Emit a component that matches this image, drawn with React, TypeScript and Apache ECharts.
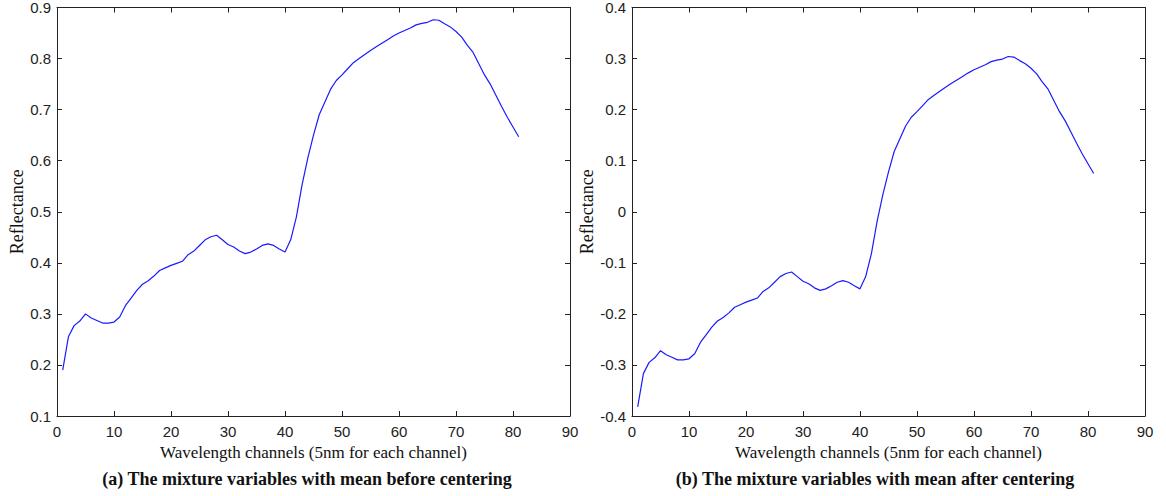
import React, { useEffect, useRef } from "react";
import * as echarts from "echarts";

const channels = [
  1, 2, 3, 4, 5, 6, 7, 8, 9, 10, 11, 12, 13, 14, 15, 16, 17, 18, 19, 20,
  21, 22, 23, 24, 25, 26, 27, 28, 29, 30, 31, 32, 33, 34, 35, 36, 37, 38, 39, 40,
  41, 42, 43, 44, 45, 46, 47, 48, 49, 50, 51, 52, 53, 54, 55, 56, 57, 58, 59, 60,
  61, 62, 63, 64, 65, 66, 67, 68, 69, 70, 71, 72, 73, 74, 75, 76, 77, 78, 79, 80, 81,
];

const beforeCentering = [
  0.19, 0.255, 0.277, 0.286, 0.3, 0.292, 0.287, 0.282, 0.282, 0.284,
  0.294, 0.316, 0.331, 0.346, 0.358, 0.365, 0.374, 0.385, 0.39, 0.395,
  0.399, 0.403, 0.416, 0.423, 0.434, 0.445, 0.451, 0.454, 0.445, 0.436,
  0.431, 0.423, 0.418, 0.421, 0.427, 0.434, 0.437, 0.434, 0.427, 0.421,
  0.445, 0.49, 0.553, 0.605, 0.65, 0.69, 0.715, 0.74, 0.757, 0.768,
  0.78, 0.792, 0.8, 0.808, 0.816, 0.823, 0.83, 0.837, 0.844, 0.85,
  0.855, 0.86, 0.866, 0.869, 0.871, 0.876, 0.875, 0.868, 0.862, 0.853,
  0.842, 0.826, 0.812, 0.79, 0.768, 0.75, 0.728, 0.706, 0.685, 0.666, 0.647,
];

const afterCentering = [
  -0.382, -0.317, -0.295, -0.286, -0.272, -0.28, -0.285, -0.29, -0.29, -0.288,
  -0.278, -0.256, -0.241, -0.226, -0.214, -0.207, -0.198, -0.187, -0.182, -0.177,
  -0.173, -0.169, -0.156, -0.149, -0.138, -0.127, -0.121, -0.118, -0.127, -0.136,
  -0.141, -0.149, -0.154, -0.151, -0.145, -0.138, -0.135, -0.138, -0.145, -0.151,
  -0.127, -0.082, -0.019, 0.033, 0.078, 0.118, 0.143, 0.168, 0.185, 0.196,
  0.208, 0.22, 0.228, 0.236, 0.244, 0.251, 0.258, 0.265, 0.272, 0.278,
  0.283, 0.288, 0.294, 0.297, 0.299, 0.304, 0.303, 0.296, 0.29, 0.281,
  0.27, 0.254, 0.24, 0.218, 0.196, 0.178, 0.156, 0.134, 0.113, 0.094, 0.075,
];

const xTicks = { min: 0, max: 90, interval: 10 };
const yTicksA = { min: 0.1, max: 0.9, interval: 0.1 };
const yTicksB = { min: -0.4, max: 0.4, interval: 0.1 };

const xAxisTitle = "Wavelength channels (5nm for each channel)";
const yAxisTitle = "Reflectance";
const captionA = "(a) The mixture variables with mean before centering";
const captionB = "(b) The mixture variables with mean after centering";

const AXIS_COLOR = "#222";
const SANS = "'Liberation Sans', Arial, sans-serif";
const SERIF = "'Liberation Serif', 'Times New Roman', serif";

const fmt = (v: number) => {
  if (Math.abs(v) < 1e-9) return "0";
  return String(Math.round(v * 10) / 10);
};

function makeX(gridIndex: number, top: boolean) {
  return {
    type: "value",
    gridIndex,
    position: top ? "top" : "bottom",
    min: xTicks.min,
    max: xTicks.max,
    interval: xTicks.interval,
    name: top ? "" : xAxisTitle,
    nameLocation: "middle",
    nameGap: 22,
    nameTextStyle: { fontFamily: SERIF, fontSize: 17, color: "#111" },
    axisLine: { show: true, onZero: false, lineStyle: { color: AXIS_COLOR, width: 1 } },
    axisTick: { show: true, inside: true, length: 5, lineStyle: { color: AXIS_COLOR } },
    axisLabel: {
      show: !top,
      margin: 8,
      fontFamily: SANS,
      fontSize: 15,
      color: "#222",
      formatter: (v: number) => String(v),
    },
    splitLine: { show: false },
  };
}

function makeY(gridIndex: number, right: boolean, t: { min: number; max: number; interval: number }) {
  return {
    type: "value",
    gridIndex,
    position: right ? "right" : "left",
    min: t.min,
    max: t.max,
    interval: t.interval,
    name: right ? "" : yAxisTitle,
    nameLocation: "middle",
    nameGap: 31,
    nameTextStyle: { fontFamily: SERIF, fontSize: 18, color: "#111" },
    axisLine: { show: true, onZero: false, lineStyle: { color: AXIS_COLOR, width: 1 } },
    axisTick: { show: true, inside: true, length: 5, lineStyle: { color: AXIS_COLOR } },
    axisLabel: {
      show: !right,
      margin: 6,
      fontFamily: SANS,
      fontSize: 15,
      color: "#222",
      formatter: fmt,
    },
    splitLine: { show: false },
  };
}

export default function App() {
  const ref = useRef<HTMLDivElement>(null);

  useEffect(() => {
    if (!ref.current) return;
    const chart = echarts.init(ref.current, undefined, { renderer: "svg" });
    const dataA = channels.map((c, i) => [c, beforeCentering[i]]);
    const dataB = channels.map((c, i) => [c, afterCentering[i]]);
    chart.setOption({
      animation: false,
      backgroundColor: "#ffffff",
      grid: [
        { left: 57, top: 7, width: 513, height: 409, containLabel: false },
        { left: 632, top: 7, width: 513, height: 409, containLabel: false },
      ],
      xAxis: [makeX(0, false), makeX(0, true), makeX(1, false), makeX(1, true)],
      yAxis: [
        makeY(0, false, yTicksA),
        makeY(0, true, yTicksA),
        makeY(1, false, yTicksB),
        makeY(1, true, yTicksB),
      ],
      series: [
        {
          type: "line",
          xAxisIndex: 0,
          yAxisIndex: 0,
          data: dataA,
          showSymbol: false,
          lineStyle: { color: "#1a1aff", width: 1.2 },
          itemStyle: { color: "#1a1aff" },
        },
        {
          type: "line",
          xAxisIndex: 2,
          yAxisIndex: 2,
          data: dataB,
          showSymbol: false,
          lineStyle: { color: "#1a1aff", width: 1.2 },
          itemStyle: { color: "#1a1aff" },
        },
      ],
      graphic: [
        {
          type: "text",
          x: 307,
          y: 479,
          style: {
            text: captionA,
            fontFamily: SERIF,
            fontSize: 18,
            fontWeight: "bold",
            fill: "#111",
            textAlign: "center",
            textVerticalAlign: "middle",
          },
        },
        {
          type: "text",
          x: 875,
          y: 479,
          style: {
            text: captionB,
            fontFamily: SERIF,
            fontSize: 18,
            fontWeight: "bold",
            fill: "#111",
            textAlign: "center",
            textVerticalAlign: "middle",
          },
        },
      ],
    });
    return () => chart.dispose();
  }, []);

  return (
    <div
      ref={ref}
      style={{ position: "absolute", left: 0, top: 0, width: 1166, height: 496, background: "#fff" }}
    />
  );
}
